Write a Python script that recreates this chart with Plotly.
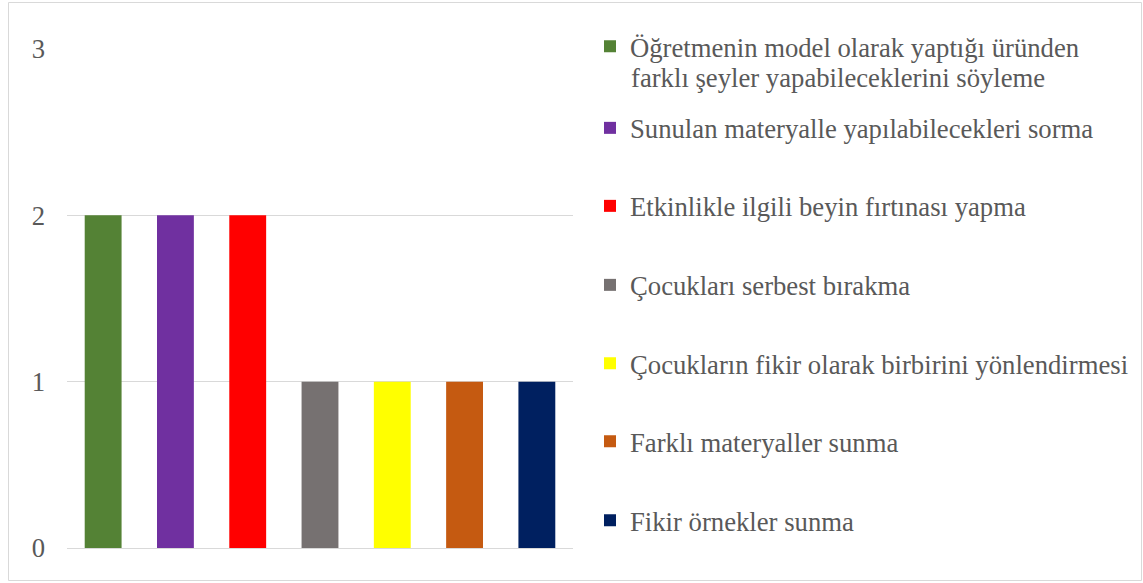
import plotly.graph_objects as go

categories = [
    "Öğretmenin model olarak yaptığı üründen<br>farklı şeyler yapabileceklerini söyleme",
    "Sunulan materyalle yapılabilecekleri sorma",
    "Etkinlikle ilgili beyin fırtınası yapma",
    "Çocukları serbest bırakma",
    "Çocukların fikir olarak birbirini yönlendirmesi",
    "Farklı materyaller sunma",
    "Fikir örnekler sunma",
]
values = [2, 2, 2, 1, 1, 1, 1]
colors = ["#548235", "#7030A0", "#FF0000", "#767171", "#FFFF00", "#C55A11", "#002060"]
y_ticks = [0, 1, 2, 3]

W, H = 1143, 583
L, R, T, B = 67, 570, 49, 35
PW, PH = W - L - R, H - T - B

def px_x(px):
    return (px - L) / PW

def px_y(py):
    return 1 - (py - T) / PH

# legend entry centres (pixels) for each entry
legend_centres = [46.5, 128, 206, 285, 363.5, 441.5, 520.5]
LINE_GAP = 31  # spacing of wrapped legend lines

FONT = "Liberation Serif"
FS = 26.7
TXT = "#595959"

fig = go.Figure()
layout_legends = {}
annotations = []
for i, (cat, val, col) in enumerate(zip(categories, values, colors)):
    lname = "legend" if i == 0 else f"legend{i + 1}"
    lines = cat.split("<br>")
    fig.add_trace(go.Bar(
        x=[str(i)], y=[val], name=lines[0],
        marker=dict(color=col, line=dict(width=0)),
        legend=lname,
        hovertext=cat.replace("<br>", " "), hoverinfo="text+y",
    ))
    layout_legends[lname] = dict(
        x=px_x(590), xanchor="left",
        y=px_y(legend_centres[i]), yanchor="middle",
        font=dict(family=FONT, size=FS, color=TXT),
        bgcolor="rgba(0,0,0,0)", borderwidth=0,
    )
    for k, extra in enumerate(lines[1:], start=1):
        annotations.append(dict(
            text=extra, xref="paper", yref="paper",
            x=px_x(629), xanchor="left",
            y=px_y(legend_centres[i] + k * LINE_GAP), yanchor="middle",
            showarrow=False, align="left",
            font=dict(family=FONT, size=FS, color=TXT),
        ))

fig.update_layout(
    width=W, height=H,
    margin=dict(l=L, r=R, t=T, b=B, autoexpand=False),
    paper_bgcolor="white", plot_bgcolor="white",
    barmode="overlay", bargap=0.49,
    showlegend=True,
    xaxis=dict(
        type="category", showticklabels=False, showgrid=False,
        zeroline=False, showline=False, ticks="",
        range=[-0.5, 6.5], fixedrange=True,
    ),
    yaxis=dict(
        range=[0, 3], tickvals=y_ticks, ticktext=[str(v) for v in y_ticks],
        showgrid=True, gridcolor="#D9D9D9", gridwidth=1,
        zeroline=True, zerolinecolor="#D9D9D9", zerolinewidth=1,
        showline=False, ticks="", ticklabelstandoff=21,
        tickfont=dict(family=FONT, size=FS, color=TXT),
    ),
    shapes=[dict(
        type="rect", xref="paper", yref="paper",
        x0=px_x(8.5), x1=px_x(1141.5), y0=px_y(580.5), y1=px_y(2.5),
        line=dict(color="#D9D9D9", width=1), fillcolor="rgba(0,0,0,0)",
        layer="below",
    )],
    annotations=annotations,
    **layout_legends,
)

fig.write_html("out.html", config={"displayModeBar": False},
               post_script="document.body.style.margin='0';")
